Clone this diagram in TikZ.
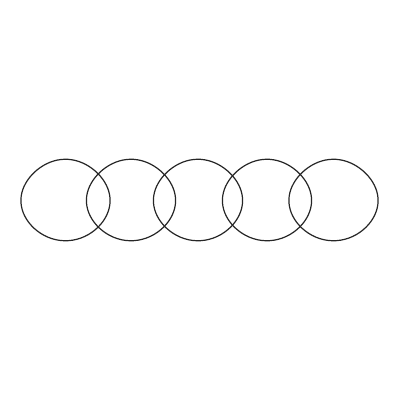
\documentclass[tikz,border=0pt]{standalone}
\begin{document}
\begin{tikzpicture}[x=1pt,y=-1pt,
  ring/.style={draw=black!85,line width=1.2pt}]
\useasboundingbox (0,0) rectangle (400,400);
\foreach \cx in {65.5,131,198,267,333.5}{
  \draw[ring] plot[domain=0:360,samples=72,smooth cycle,variable=\t]
    ({\cx+44.5*cos(\t)+1.5*sin(2*\t)}, {199+40*sin(\t)-1.0*cos(2*\t)-1.5*sin(3*\t)*0.5});
}
\end{tikzpicture}
\end{document}
